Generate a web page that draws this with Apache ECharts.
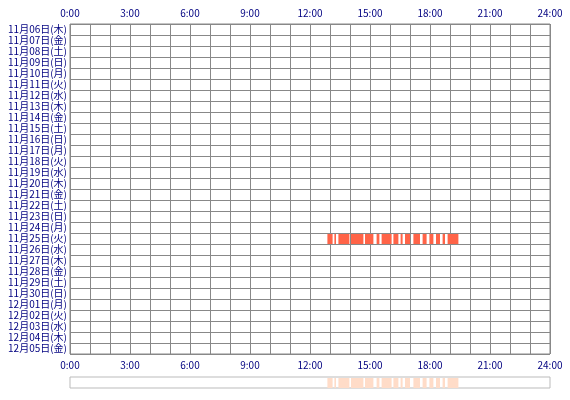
<!DOCTYPE html>
<html><head><meta charset="utf-8">
<script src="https://cdn.jsdelivr.net/npm/echarts@6/dist/echarts.min.js"></script>
<style>body{margin:0}#c{width:570px;height:400px}</style>
</head><body><div id="c"></div>
<script>
var days = ['11月06日(木)','11月07日(金)','11月08日(土)','11月09日(日)','11月10日(月)','11月11日(火)',
    '11月12日(水)','11月13日(木)','11月14日(金)','11月15日(土)','11月16日(日)','11月17日(月)',
    '11月18日(火)','11月19日(水)','11月20日(木)','11月21日(金)','11月22日(土)','11月23日(日)',
    '11月24日(月)','11月25日(火)','11月26日(水)','11月27日(木)','11月28日(金)','11月29日(土)',
    '11月30日(日)','12月01日(月)','12月02日(火)','12月03日(水)','12月04日(木)','12月05日(金)'];
// [day index, start hour, end hour]
var sessions = [
    [19, 12.87, 13.13], [19, 13.22, 13.30], [19, 13.42, 13.97], [19, 14.05, 14.67],
    [19, 14.75, 15.17], [19, 15.33, 15.47], [19, 15.58, 16.08], [19, 16.17, 16.42],
    [19, 16.53, 16.63], [19, 16.75, 17.00], [19, 17.17, 17.50], [19, 17.63, 17.83],
    [19, 17.97, 18.17], [19, 18.30, 18.50], [19, 18.63, 18.75], [19, 18.88, 19.42]
];
var font = '"Noto Sans CJK JP", sans-serif';
var summary = sessions.map(function (s) { return [0, s[1], s[2]]; });

function xAxisCfg(gridIndex, pos, showLabel) {
    return {
        type: 'value', gridIndex: gridIndex, position: pos, min: 0, max: 24, interval: 1,
        axisLine: {show: false}, axisTick: {show: false},
        splitLine: {show: gridIndex === 0, lineStyle: {color: '#888', width: 1}},
        axisLabel: {
            show: showLabel, color: '#000080', fontSize: 10, fontFamily: font, margin: 6,
            formatter: function (v) { return v % 3 === 0 ? v + ':00' : ''; }
        }
    };
}

function bars(params, api) {
    var y = api.value(0);
    var p0 = api.coord([api.value(1), y]);
    var p1 = api.coord([api.value(2), y]);
    var h = api.size([0, 1])[1];
    return {
        type: 'rect',
        shape: {x: p0[0], y: p0[1] - h / 2 + 1, width: p1[0] - p0[0], height: h - 1},
        style: {fill: api.visual('color')}
    };
}

var chart = echarts.init(document.getElementById('c'));
chart.setOption({
    animation: false,
    grid: [
        {left: 70, top: 24, width: 480, height: 330, show: true, borderColor: '#888', borderWidth: 1, backgroundColor: '#fff'},
        {left: 70, top: 377, width: 480, height: 11, show: true, borderColor: '#bbb', borderWidth: 1}
    ],
    xAxis: [xAxisCfg(0, 'top', true), xAxisCfg(0, 'bottom', true), xAxisCfg(1, 'bottom', false)],
    yAxis: [
        {
            type: 'category', data: days, inverse: true, gridIndex: 0,
            axisLine: {show: false}, axisTick: {show: false},
            splitLine: {show: true, lineStyle: {color: '#888', width: 1}},
            axisLabel: {color: '#000080', fontSize: 10, fontFamily: font, margin: 3, interval: 0}
        },
        {type: 'category', data: ['all'], gridIndex: 1, axisLine: {show: false}, axisTick: {show: false}, axisLabel: {show: false}}
    ],
    series: [
        {type: 'custom', xAxisIndex: 0, yAxisIndex: 0, renderItem: bars, encode: {x: [1, 2], y: 0},
            itemStyle: {color: '#ff6347'}, data: sessions, z: 1},
        {type: 'custom', xAxisIndex: 2, yAxisIndex: 1, renderItem: bars, encode: {x: [1, 2], y: 0},
            itemStyle: {color: '#ffdcc8'}, data: summary}
    ]
});
</script></body></html>
